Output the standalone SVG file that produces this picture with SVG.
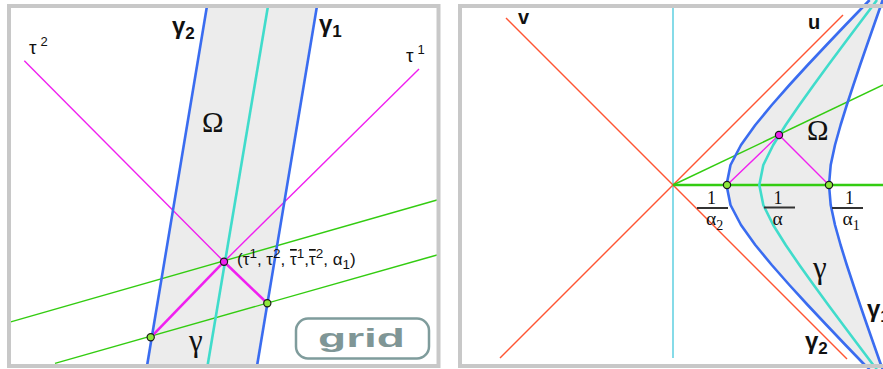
<svg xmlns="http://www.w3.org/2000/svg" width="883" height="369" viewBox="0 0 883 369">
<style>
.frame{fill:none;stroke:#c8c8c8;stroke-width:4}
.band{fill:#ececec;stroke:none}
.blue{fill:none;stroke:#3a6cf0;stroke-width:2.6;stroke-linejoin:round}
.turq{fill:none;stroke:#40dccb;stroke-width:2.6;stroke-linejoin:round}
.mag{fill:none;stroke:#f020f0;stroke-width:1.4}
.magb{fill:none;stroke:#f020f0;stroke-width:2.6}
.grn{fill:none;stroke:#33cc11;stroke-width:1.4}
.grnb{fill:none;stroke:#33cc11;stroke-width:2.4}
.red{fill:none;stroke:#ff5533;stroke-width:1.4}
.cyan{fill:none;stroke:#44c8dc;stroke-width:1.3}
.ptg{fill:#8ee83a;stroke:#1a1a1a;stroke-width:1.2}
.ptm{fill:#ee22ee;stroke:#1a1a1a;stroke-width:1.2}
.sans{font-family:"Liberation Sans",Arial,sans-serif;fill:#111}
.serif{font-family:"Liberation Serif","Times New Roman",serif;fill:#111}
.bold{font-weight:bold}
.bar{stroke:#333;stroke-width:2}
.ov{text-decoration:overline}
</style>

<g id="left-panel">
  <rect x="9" y="6" width="429.5" height="360" fill="#fff"/>
  <polygon class="band" points="207,7 317,7 257,365 147,365"/>
</g>

<g id="right-panel">
  <rect x="460" y="6" width="440" height="360" fill="#fff"/>
  <polygon class="band" points="726.5,185 730.5,165 741,145 755.3,125 771.8,105 789.4,85 807.7,65 826.5,45 845.5,25 864.8,5 869.6,0 882.7,0 881,5 874,25 867,45 860.1,65 853.4,85 846.8,105 840.6,125 835,145 830.7,165 829,185 830.7,205 835,225 840.6,245 846.8,265 853.4,285 860.1,305 867,325 874,345 881,365 882.7,369 869.6,369 864.8,365 845.5,345 826.5,325 807.7,305 789.4,285 771.8,265 755.3,245 741,225 730.5,205"/>
</g>

<g id="connectors">
  <line class="grn" x1="9" y1="322.3" x2="437" y2="200"/>
  <line class="grn" x1="55" y1="363.3" x2="437" y2="255"/>
  <line class="mag" x1="24.3" y1="60.7" x2="224" y2="261.7"/>
  <line class="mag" x1="419" y1="69" x2="224" y2="261.7"/>
  <line class="magb" x1="224" y1="261.7" x2="267.3" y2="303.3"/>
  <line class="magb" x1="224" y1="261.7" x2="150.7" y2="337.3"/>
  <line class="blue" x1="207" y1="6" x2="147" y2="366"/>
  <line class="blue" x1="317" y1="6" x2="257" y2="366"/>
  <line class="turq" x1="268" y1="6" x2="207.5" y2="366"/>

  <line class="cyan" x1="673" y1="6" x2="673" y2="358"/>
  <line class="red" x1="506" y1="18" x2="847" y2="359"/>
  <line class="red" x1="843" y1="15" x2="500" y2="358"/>
  <line class="grn" x1="673" y1="185" x2="883" y2="85"/>
  <line class="grnb" x1="673" y1="185" x2="883" y2="185"/>
  <polyline class="mag" points="727,185 779,135 829,185"/>
  <polyline class="blue" points="869.6,0 864.8,5 845.5,25 826.5,45 807.7,65 789.4,85 771.8,105 755.3,125 741,145 730.5,165 726.5,185 730.5,205 741,225 755.3,245 771.8,265 789.4,285 807.7,305 826.5,325 845.5,345 864.8,365 869.6,369"/>
  <polyline class="turq" points="877,0 873.3,5 858.2,25 843.2,45 828.3,65 813.7,85 799.4,105 785.7,125 773.2,145 763.3,165 759.3,185 763.3,205 773.2,225 785.7,245 799.4,265 813.7,285 828.3,305 843.2,325 858.2,345 873.3,365 877,369"/>
  <polyline class="blue" points="882.7,0 881,5 874,25 867,45 860.1,65 853.4,85 846.8,105 840.6,125 835,145 830.7,165 829,185 830.7,205 835,225 840.6,245 846.8,265 853.4,285 860.1,305 867,325 874,345 881,365 882.7,369"/>
</g>

<rect class="frame" x="9" y="6" width="429.5" height="360"/>
<rect class="frame" x="460" y="6" width="440" height="360"/>

<g id="pt-center"><circle class="ptm" cx="224" cy="261.7" r="3.6"/>
  <text class="sans" x="237" y="265" font-size="17">(τ<tspan dy="-7" font-size="13.5">1</tspan><tspan dy="7">, τ</tspan><tspan dy="-7" font-size="13.5">2</tspan><tspan dy="7">, </tspan><tspan class="ov">τ</tspan><tspan dy="-7" font-size="13.5">1</tspan><tspan dy="7">,</tspan><tspan class="ov">τ</tspan><tspan dy="-7" font-size="13.5">2</tspan><tspan dy="7">, α</tspan><tspan dy="4" font-size="13.5">1</tspan><tspan dy="-4">)</tspan></text>
</g>
<g id="pt-left"><circle class="ptg" cx="150.7" cy="337.3" r="3.6"/></g>
<g id="pt-right"><circle class="ptg" cx="267.3" cy="303.3" r="3.6"/></g>
<g id="lbl-gamma2-left"><text class="sans bold" x="172" y="34" font-size="24">γ<tspan dy="5" font-size="17">2</tspan></text></g>
<g id="lbl-gamma1-left"><text class="sans bold" x="319" y="32" font-size="24">γ<tspan dy="5" font-size="17">1</tspan></text></g>
<g id="lbl-tau2"><text class="sans" x="29" y="54" font-size="19">τ<tspan dx="4" dy="-8" font-size="13">2</tspan></text></g>
<g id="lbl-tau1"><text class="sans" x="406" y="62" font-size="19">τ<tspan dx="4" dy="-8" font-size="13">1</tspan></text></g>
<g id="lbl-omega-left"><text class="serif" x="202" y="132" font-size="29">Ω</text></g>
<g id="lbl-gamma-left"><text class="serif" x="189" y="351" font-size="31">γ</text></g>
<g id="btn-grid">
  <rect x="296" y="318.5" width="133" height="40" rx="12" fill="#fff" stroke="#7f9c9c" stroke-width="2.5"/>
  <text class="sans bold" x="318" y="347" font-size="25" style="fill:#7f9696" textLength="87" lengthAdjust="spacingAndGlyphs">grid</text>
</g>

<g id="pt-r-top"><circle class="ptm" cx="779" cy="135" r="3.6"/></g>
<g id="pt-r-left"><circle class="ptg" cx="727" cy="185" r="3.6"/></g>
<g id="pt-r-right"><circle class="ptg" cx="829" cy="185" r="3.6"/></g>
<g id="lbl-v"><text class="sans bold" x="518" y="24" font-size="20">v</text></g>
<g id="lbl-u"><text class="sans bold" x="808" y="29" font-size="20">u</text></g>
<g id="lbl-omega-right"><text class="serif" x="807" y="140" font-size="29">Ω</text></g>
<g id="frac-a2">
  <line class="bar" x1="697" y1="208" x2="728" y2="208"/>
  <text class="serif" font-size="18"><tspan x="707" y="203.5">1</tspan><tspan x="706" y="225" font-size="19.5">α</tspan><tspan dy="5" font-size="14">2</tspan></text>
</g>
<g id="frac-a">
  <line class="bar" x1="764" y1="207.5" x2="795" y2="207.5"/>
  <text class="serif" font-size="18"><tspan x="773.5" y="203.5">1</tspan><tspan x="772.5" y="225" font-size="19.5">α</tspan></text>
</g>
<g id="frac-a1">
  <line class="bar" x1="832" y1="208" x2="863" y2="208"/>
  <text class="serif" font-size="18"><tspan x="845" y="203.5">1</tspan><tspan x="842.5" y="225" font-size="19.5">α</tspan><tspan dy="5" font-size="14">1</tspan></text>
</g>
<g id="lbl-gamma-right"><text class="serif" x="813" y="278" font-size="31">γ</text></g>
<g id="lbl-gamma2-right"><text class="sans bold" x="805" y="349" font-size="24">γ<tspan dy="5" font-size="17">2</tspan></text></g>
<g id="lbl-gamma1-right"><text class="sans bold" x="867" y="317" font-size="24">γ<tspan dy="5" font-size="17">1</tspan></text></g>
</svg>
